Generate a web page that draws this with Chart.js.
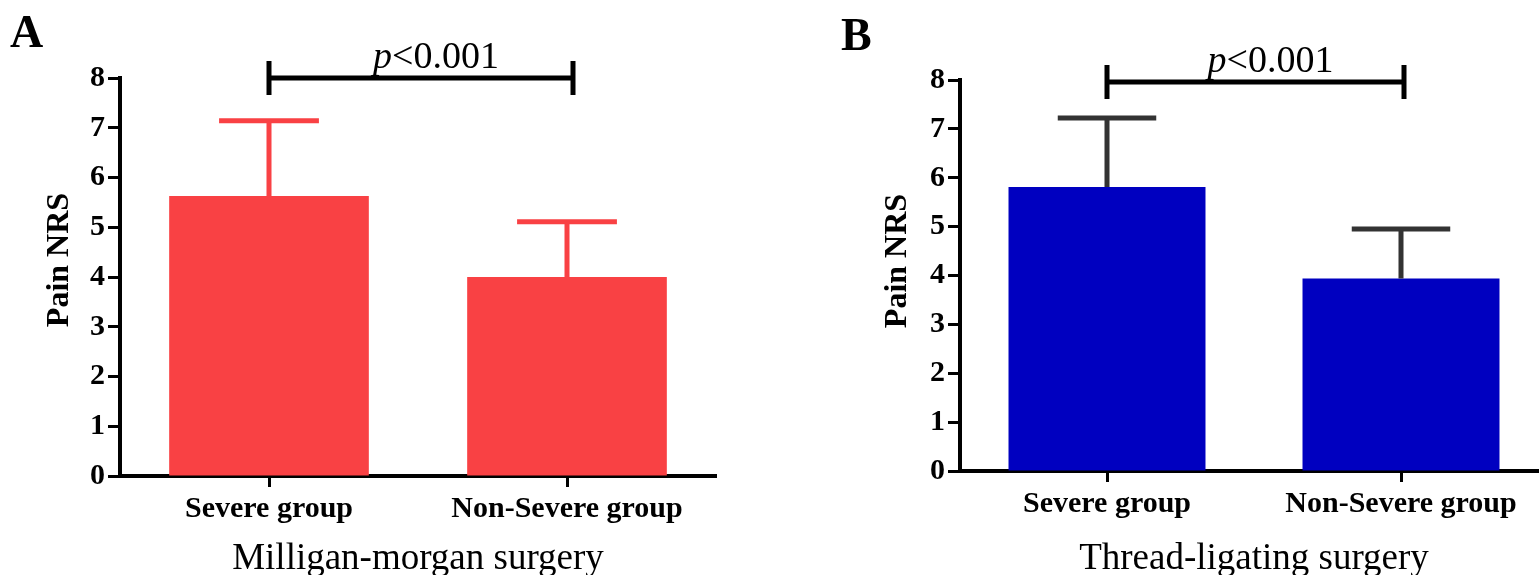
<!DOCTYPE html>
<html>
<head>
<meta charset="utf-8">
<script src="https://cdn.jsdelivr.net/npm/chart.js@4.4.0/dist/chart.umd.min.js"></script>
<style>
    body { margin: 0; background: #fff; overflow: hidden; width: 1539px; height: 575px; position: relative; }
    .panel { position: absolute; top: 0; height: 575px; }
    #panelA { left: 0; width: 770px; }
    #panelB { left: 770px; width: 800px; }
</style>
</head>
<body>
<div class="panel" id="panelA"><canvas id="chartA"></canvas></div>
<div class="panel" id="panelB"><canvas id="chartB"></canvas></div>
<script>
// =========================
// Data
// =========================

const groups = ["Severe group", "Non-Severe group"];

// Milligan-morgan surgery: mean and SD of pain NRS
const mmMeans = [5.63, 4.00];
const mmSD    = [1.51, 1.11];

// Thread-ligating surgery
const tlMeans = [5.81, 3.94];
const tlSD    = [1.41, 1.01];

const pText = "<0.001";

const SERIF = '"Liberation Serif", "Times New Roman", Times, serif';

// =========================
// Extras: error bars, bracket, labels
// =========================

const extrasPlugin = {
    id: "extras",
    afterDatasetsDraw(chart) {
        const o = chart.options.plugins.extras;
        const ctx = chart.ctx;
        const yScale = chart.scales.y;
        const bars = chart.getDatasetMeta(0).data;

        ctx.save();

        // error bars (upper only)
        ctx.strokeStyle = o.errColor;
        ctx.lineWidth = 5;
        bars.forEach((bar, i) => {
            const yTop = yScale.getPixelForValue(o.means[i] + o.sd[i]);
            const half = bar.width / 4;
            ctx.beginPath();
            ctx.moveTo(bar.x, bar.y);
            ctx.lineTo(bar.x, yTop);
            ctx.moveTo(bar.x - half, yTop);
            ctx.lineTo(bar.x + half, yTop);
            ctx.stroke();
        });

        // significance bracket
        const by = yScale.getPixelForValue(o.bracketAt);
        const x1 = bars[0].x, x2 = bars[1].x + o.bracketExtra;
        ctx.strokeStyle = "#000";
        ctx.lineWidth = 5;
        ctx.beginPath();
        ctx.moveTo(x1, by); ctx.lineTo(x2, by);
        ctx.moveTo(x1, by - 17); ctx.lineTo(x1, by + 17);
        ctx.moveTo(x2, by - 17); ctx.lineTo(x2, by + 17);
        ctx.stroke();

        // p value text
        ctx.fillStyle = "#000";
        ctx.textBaseline = "alphabetic";
        ctx.textAlign = "left";
        ctx.font = "italic 38px " + SERIF;
        const wp = ctx.measureText("p").width;
        ctx.font = "38px " + SERIF;
        const wr = ctx.measureText(pText).width;
        let tx = (x1 + x2) / 2 + 15 - (wp + wr) / 2;
        ctx.font = "italic 38px " + SERIF;
        ctx.fillText("p", tx, by - 10);
        ctx.font = "38px " + SERIF;
        ctx.fillText(pText, tx + wp, by - 10);

        // panel letter
        ctx.font = "bold 46px " + SERIF;
        ctx.fillText(o.letter, o.letterX, o.letterY);

        // y axis title
        ctx.font = "bold 32px " + SERIF;
        ctx.textAlign = "center";
        ctx.textBaseline = "middle";
        ctx.translate(o.yTitleX, o.yTitleY);
        ctx.rotate(-Math.PI / 2);
        ctx.fillText("Pain NRS", 0, 0);

        ctx.restore();
    }
};

// =========================
// Panels
// =========================

function makePanel(id, p) {
    return new Chart(document.getElementById(id), {
        type: "bar",
        data: {
            labels: groups,
            datasets: [{
                data: p.means,
                backgroundColor: p.color,
                borderWidth: 0,
                categoryPercentage: 1,
                barPercentage: 0.67
            }]
        },
        options: {
            responsive: true,
            maintainAspectRatio: false,
            devicePixelRatio: 1,
            animation: false,
            layout: { padding: { left: 0, top: p.top, right: p.right, bottom: 0 } },
            plugins: {
                legend: { display: false },
                tooltip: { enabled: false },
                extras: {
                    means: p.means, sd: p.sd, errColor: p.errColor,
                    bracketAt: p.bracketAt, bracketExtra: p.bracketExtra,
                    letter: p.letter, letterX: p.letterX, letterY: p.letterY,
                    yTitleX: p.yTitleX, yTitleY: p.yTitleY
                }
            },
            scales: {
                x: {
                    grid: { display: true, drawOnChartArea: false, offset: false,
                            tickLength: 11, tickWidth: 3, tickColor: "#000" },
                    border: { display: true, width: 4, color: "#000" },
                    ticks: { color: "#000", padding: 4, maxRotation: 0,
                             font: { family: SERIF, size: 30, weight: "bold" } },
                    title: { display: true, text: p.title, color: "#000",
                             padding: { top: 0, bottom: 0 },
                             font: { family: SERIF, size: 37, lineHeight: 0.85 } },
                    afterFit: s => { s.height = p.xHeight; }
                },
                y: {
                    min: 0, max: 8,
                    grid: { display: true, drawOnChartArea: false,
                            tickLength: 12, tickWidth: 3, tickColor: "#000" },
                    border: { display: true, width: 4, color: "#000" },
                    ticks: { stepSize: 1, color: "#000", padding: 3,
                             font: { family: SERIF, size: 30, weight: "bold" } },
                    afterFit: s => { s.width = p.yWidth; }
                }
            }
        },
        plugins: [extrasPlugin]
    });
}

makePanel("chartA", {
    means: mmMeans, sd: mmSD, color: "#F94144", errColor: "#F94144",
    title: "Milligan-morgan surgery", letter: "A",
    top: 78, right: 54, yWidth: 120, xHeight: 99,
    bracketAt: 8, bracketExtra: 6,
    letterX: 10, letterY: 47, yTitleX: 60, yTitleY: 260
});

makePanel("chartB", {
    means: tlMeans, sd: tlSD, color: "#0000C0", errColor: "#333333",
    title: "Thread-ligating surgery", letter: "B",
    top: 80, right: 22, yWidth: 190, xHeight: 104,
    bracketAt: 7.96, bracketExtra: 3,
    letterX: 71, letterY: 50, yTitleX: 128, yTitleY: 261
});
</script>
</body>
</html>
